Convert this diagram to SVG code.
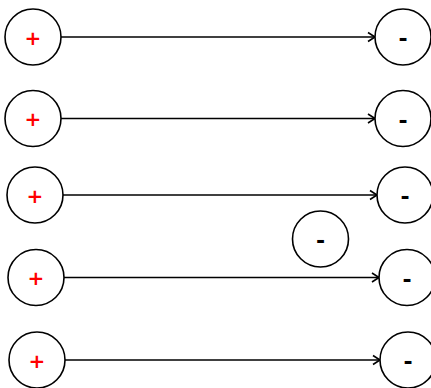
<svg xmlns="http://www.w3.org/2000/svg" width="431" height="388" viewBox="0 0 431 388">
<style>
.n{fill:#fff;stroke:#000;stroke-width:1.6}
.p{fill:#ff0000;font-family:"DejaVu Sans",sans-serif;font-weight:bold;font-size:20px;text-anchor:middle}
.m{fill:#000;font-family:"DejaVu Sans",sans-serif;font-weight:bold;font-size:22px;text-anchor:middle}
.e{fill:none;stroke:#000;stroke-width:1.6}
</style>
<defs>
<marker id="a" markerWidth="12" markerHeight="12" refX="10" refY="6" orient="auto" markerUnits="userSpaceOnUse">
<path d="M3,1.5 L10,6 L3,10.5" fill="none" stroke="#000" stroke-width="1.6"/>
</marker>
</defs>
<g id="connectors">
<line class="e" x1="61" y1="37" x2="375" y2="37" marker-end="url(#a)"/>
<line class="e" x1="61" y1="118.5" x2="375" y2="118.5" marker-end="url(#a)"/>
<line class="e" x1="63" y1="195" x2="377" y2="195" marker-end="url(#a)"/>
<line class="e" x1="64" y1="277.5" x2="379" y2="277.5" marker-end="url(#a)"/>
<line class="e" x1="65" y1="360" x2="380" y2="360" marker-end="url(#a)"/>
</g>
<g id="p1"><circle class="n" cx="33" cy="37" r="28"/><text class="p" x="33" y="44.5">+</text></g>
<g id="p2"><circle class="n" cx="33" cy="118.5" r="28"/><text class="p" x="33" y="126">+</text></g>
<g id="p3"><circle class="n" cx="35" cy="195" r="28"/><text class="p" x="35" y="202.5">+</text></g>
<g id="p4"><circle class="n" cx="36" cy="277.5" r="28"/><text class="p" x="36" y="285">+</text></g>
<g id="p5"><circle class="n" cx="37" cy="360" r="28"/><text class="p" x="37" y="367.5">+</text></g>
<g id="m1"><circle class="n" cx="403" cy="37" r="28"/><text class="m" x="403" y="46">-</text></g>
<g id="m2"><circle class="n" cx="403" cy="118.5" r="28"/><text class="m" x="403" y="127.5">-</text></g>
<g id="m3"><circle class="n" cx="405" cy="195" r="28"/><text class="m" x="405" y="204">-</text></g>
<g id="m4"><circle class="n" cx="407" cy="277.5" r="28"/><text class="m" x="407" y="286.5">-</text></g>
<g id="m5"><circle class="n" cx="408" cy="360" r="28"/><text class="m" x="408" y="369">-</text></g>
<g id="m6"><circle class="n" cx="320.5" cy="239" r="28"/><text class="m" x="320.5" y="248">-</text></g>
</svg>
